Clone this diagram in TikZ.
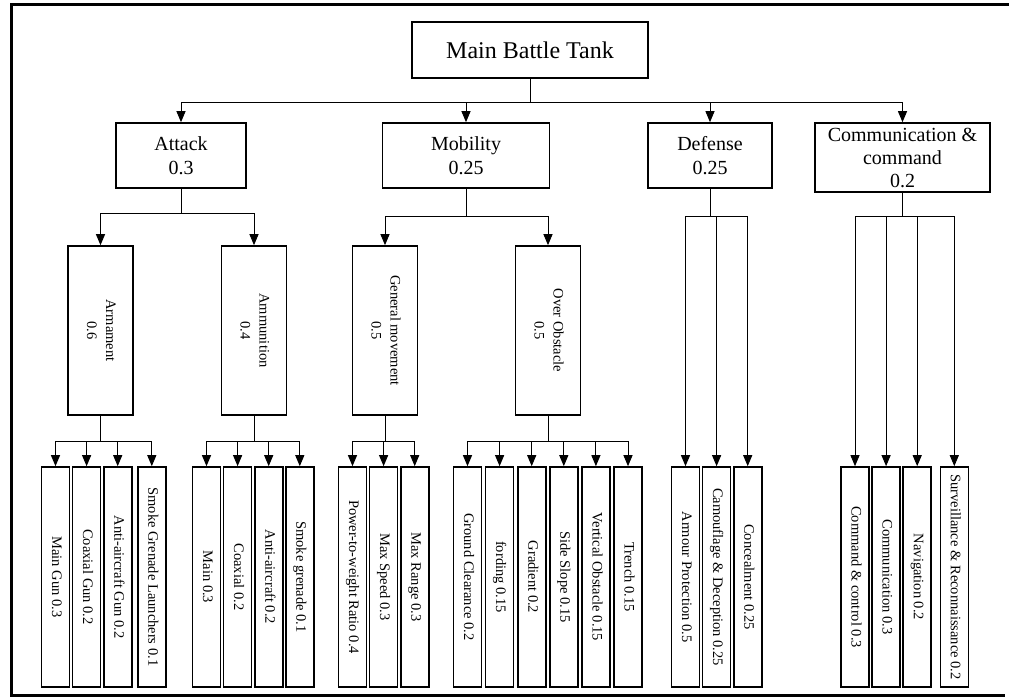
\documentclass[tikz,border=0pt]{standalone}
\usepackage{fontspec}
\setmainfont{Liberation Serif}
\usetikzlibrary{arrows.meta,positioning}
\tikzstyle{Root} = [draw, rectangle, line width=1.6pt, minimum width=236pt, minimum height=56pt, font=\fontsize{24}{28}\selectfont]
\tikzstyle{Branch} = [draw, rectangle, line width=1.6pt, minimum height=65pt, inner sep=0pt, align=center, font=\fontsize{20}{24}\selectfont]
\tikzstyle{Group} = [draw, rectangle, line width=1.6pt, minimum width=65pt, minimum height=169pt, inner sep=0pt, font=\fontsize{14.5}{19}\selectfont]
\tikzstyle{Leaf} = [draw, rectangle, line width=1.6pt, minimum width=28pt, minimum height=220pt, inner sep=0pt, font=\fontsize{14.5}{17}\selectfont]
\tikzstyle{Link} = [line width=1pt, -{Triangle[width=9pt,length=11pt]}]
\newcommand{\vtext}[1]{\rotatebox{-90}{\begin{tabular}{@{}c@{}}#1\end{tabular}}}

\begin{document}
\begin{tikzpicture}[x=1pt,y=-1pt]
    \useasboundingbox (0,0) rectangle (1009,698);
    \draw[line width=3pt] (1009,5) -- (11,5) -- (11,695) -- (1005,695);

    \node[Root] (mbt) at (530,50) {Main Battle Tank};
    \node[Branch, minimum width=130pt] (attack)   at (181,155.5) {Attack\\0.3};
    \node[Branch, minimum width=167pt] (mobility) at (466,155.5) {Mobility\\0.25};
    \node[Branch, minimum width=124pt] (defense)  at (710,155.5) {Defense\\0.25};
    \node[Branch, minimum width=175pt, minimum height=69pt, font=\fontsize{20}{23}\selectfont] (command) at (902.5,157.5) {Communication \&\\command\\0.2};

    \node[Group] (armament)   at (100.5,330.5) {\vtext{Armament\\0.6}};
    \node[Group] (ammunition) at (254,330.5)   {\vtext{Ammunition\\0.4}};
    \node[Group] (movement)   at (385,330.5)   {\vtext{General movement\\0.5}};
    \node[Group] (obstacle)   at (548,330.5)   {\vtext{Over Obstacle\\0.5}};

    \node[Leaf] (maingun) at (55.5,577)           {\vtext{Main Gun 0.3}};
    \node[Leaf] (coaxgun) [right=1.5pt of maingun] {\vtext{Coaxial Gun 0.2}};
    \node[Leaf] (aagun)   [right=1.5pt of coaxgun] {\vtext{Anti-aircraft Gun 0.2}};
    \node[Leaf] (smokelauncher) [right=4.5pt of aagun] {\vtext{Smoke Grenade Launchers 0.1}};

    \node[Leaf] (mainammo) at (206.5,577)            {\vtext{Main 0.3}};
    \node[Leaf] (coaxammo) [right=1.5pt of mainammo] {\vtext{Coaxial 0.2}};
    \node[Leaf] (aaammo)   [right=1.5pt of coaxammo] {\vtext{Anti-aircraft 0.2}};
    \node[Leaf] (smokeammo) [right=1.5pt of aaammo]  {\vtext{Smoke grenade 0.1}};

    \node[Leaf] (powerratio) at (352.5,577)             {\vtext{Power-to-weight Ratio 0.4}};
    \node[Leaf] (maxspeed) [right=1.5pt of powerratio] {\vtext{Max Speed 0.3}};
    \node[Leaf] (maxrange) [right=1.5pt of maxspeed]   {\vtext{Max Range 0.3}};

    \node[Leaf] (clearance) at (467.5,577)            {\vtext{Ground Clearance 0.2}};
    \node[Leaf] (fording)   [right=2.5pt of clearance] {\vtext{fording 0.15}};
    \node[Leaf] (gradient)  [right=2.5pt of fording]   {\vtext{Gradient 0.2}};
    \node[Leaf] (sideslope) [right=2.5pt of gradient]  {\vtext{Side Slope 0.15}};
    \node[Leaf] (vertobs)   [right=2.5pt of sideslope] {\vtext{Vertical Obstacle 0.15}};
    \node[Leaf] (trench)    [right=2.5pt of vertobs]   {\vtext{Trench 0.15}};

    \node[Leaf] (armour) at (685.5,577)               {\vtext{Armour Protection 0.5}};
    \node[Leaf] (camouflage)  [right=1.5pt of armour] {\vtext{Camouflage \& Deception 0.25}};
    \node[Leaf] (concealment) [right=1.5pt of camouflage] {\vtext{Concealment 0.25}};

    \node[Leaf] (cmdcontrol) at (855,577)                  {\vtext{Command \& control 0.3}};
    \node[Leaf] (communication) [right=1.5pt of cmdcontrol] {\vtext{Communication 0.3}};
    \node[Leaf] (navigation) [right=1.5pt of communication] {\vtext{Navigation 0.2}};
    \node[Leaf] (surveillance) [right=7.5pt of navigation]  {\vtext{Surveillance \& Reconnaissance 0.2}};

    % main branches
    \foreach \b in {attack,mobility,defense,command}
        \draw[Link] (mbt.south) -- ++(0,24) -| (\b.north);
    \foreach \g in {armament,ammunition}
        \draw[Link] (attack.south) -- ++(0,25) -| (\g.north);
    \foreach \g in {movement,obstacle}
        \draw[Link] (mobility.south) -- ++(0,28) -| (\g.north);

    % leaves
    \foreach \l in {maingun,coaxgun,aagun,smokelauncher}
        \draw[Link] (armament.south) -- ++(0,26) -| (\l.north);
    \foreach \l in {mainammo,coaxammo,aaammo,smokeammo}
        \draw[Link] (ammunition.south) -- ++(0,26) -| (\l.north);
    \foreach \l in {powerratio,maxspeed,maxrange}
        \draw[Link] (movement.south) -- ++(0,26) -| (\l.north);
    \foreach \l in {clearance,fording,gradient,sideslope,vertobs,trench}
        \draw[Link] (obstacle.south) -- ++(0,26) -| (\l.north);
    \foreach \l in {armour,camouflage,concealment}
        \draw[Link] (defense.south) -- ++(0,28) -| (\l.north);
    \foreach \l in {cmdcontrol,communication,navigation,surveillance}
        \draw[Link] (command.south) -- ++(0,24) -| (\l.north);
\end{tikzpicture}
\end{document}
